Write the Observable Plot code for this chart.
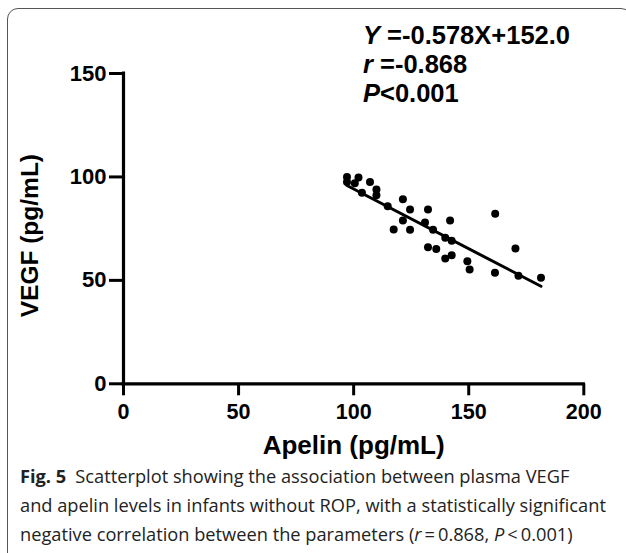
<!DOCTYPE html>
<html>
<head>
<meta charset="utf-8">
<script src="https://cdn.jsdelivr.net/npm/d3@7"></script>
<script src="https://cdn.jsdelivr.net/npm/@observablehq/plot@0.6"></script>
<style>
  body { margin: 0; background: #fff; }
  #wrap { position: relative; width: 626px; height: 553px; overflow: hidden; background: #fff; }
  #frame { position: absolute; left: 7px; top: 8px; width: 625px; height: 560px; border: 1.5px solid #555; border-radius: 11px; box-sizing: border-box; }
  #chart { position: absolute; left: 0; top: 0; }
  #annot { position: absolute; left: 363px; top: 21px; font: bold 25.5px "Liberation Sans", Arial, sans-serif; line-height: 29px; color: #000; white-space: nowrap; }
  #caption { position: absolute; left: 20px; top: 462px; font-family: "Open Sans", "Noto Sans", sans-serif; color: #222; white-space: nowrap; }
  #caption div { line-height: 29px; }
</style>
</head>
<body>
<div id="wrap">
  <div id="frame"></div>
  <div id="chart"></div>
  <div id="annot">
    <div><i>Y</i> =-0.578X+152.0</div>
    <div><i>r</i> =-0.868</div>
    <div><i>P</i>&lt;0.001</div>
  </div>
  <div id="caption">
    <div id="cap1"><b>Fig. 5</b>&ensp;Scatterplot showing the association between plasma VEGF</div>
    <div id="cap2">and apelin levels in infants without ROP, with a statistically significant</div>
    <div id="cap3">negative correlation between the parameters (<i>r</i>&thinsp;=&thinsp;0.868, <i>P</i>&thinsp;&lt;&thinsp;0.001)</div>
  </div>
</div>
<script>
// Data
const apelin = [97.1, 97.1, 102.1, 100.5, 107.1, 109.9, 103.6, 109.9, 114.8, 121.4,
                124.5, 132.3, 121.4, 117.4, 124.5, 131.0, 141.9, 134.5, 139.8, 142.6,
                132.3, 135.9, 142.6, 139.8, 161.5, 149.4, 150.4, 161.4, 170.3, 171.6, 181.4];
const vegf   = [100.0, 97.5, 99.7, 96.9, 97.5, 93.9, 92.4, 91.1, 85.8, 89.2,
                84.3, 84.3, 79.0, 74.6, 74.5, 78.0, 79.0, 74.5, 70.6, 69.2,
                66.0, 65.2, 62.2, 60.6, 82.2, 59.2, 55.2, 53.7, 65.4, 52.2, 51.3];
const xTicks = [0, 50, 100, 150, 200];
const yTicks = [0, 50, 100, 150];
const fit = { slope: -0.578, intercept: 152.0 };
const xTitle = "Apelin (pg/mL)";
const yTitle = "VEGF (pg/mL)";

const points = apelin.map((a, i) => ({ apelin: a, vegf: vegf[i] }));
const [xmin, xmax] = d3.extent(apelin);
const fitLine = [xmin, xmax].map(x => ({ apelin: x, vegf: fit.intercept + fit.slope * x }));

const W = 626, H = 462;
const chart = Plot.plot({
  width: W,
  height: H,
  marginLeft: 123,
  marginRight: 42.7,
  marginTop: 73,
  marginBottom: H - 383.3,
  style: { fontFamily: "Liberation Sans, Arial, sans-serif", background: "transparent", overflow: "visible" },
  x: { domain: [0, 200] },
  y: { domain: [0, 150] },
  marks: [
    Plot.ruleY([0], { x1: 0, x2: 200, stroke: "#000", strokeWidth: 3.2, strokeLinecap: "square" }),
    Plot.ruleX([0], { y1: 0, y2: 150, stroke: "#000", strokeWidth: 3.2, strokeLinecap: "square" }),
    Plot.axisX({ ticks: xTicks, tickSize: 12, tickPadding: 8, strokeWidth: 3, fontSize: 21.5, fontWeight: "bold", fill: "#000", label: null }),
    Plot.axisY({ ticks: yTicks, tickSize: 14, tickPadding: 3, strokeWidth: 3, fontSize: 22, fontWeight: "bold", fill: "#000", label: null }),
    Plot.line(fitLine, { x: "apelin", y: "vegf", stroke: "#000", strokeWidth: 3 }),
    Plot.dot(points, { x: "apelin", y: "vegf", r: 4, fill: "#000", stroke: "none" }),
    Plot.text([xTitle], { frameAnchor: "bottom", dy: 62, fontSize: 26, fontWeight: "bold", fill: "#000", textAnchor: "middle", lineAnchor: "middle" }),
    Plot.text([yTitle], { frameAnchor: "left", dx: -93, dy: 7, rotate: -90, fontSize: 24.5, fontWeight: "bold", fill: "#000", textAnchor: "middle", lineAnchor: "middle" })
  ]
});
// thicken the axis tick strokes to match the reference
chart.querySelectorAll('g[aria-label$="tick"]').forEach(g => {
  g.setAttribute("stroke-width", "3");
  g.querySelectorAll("path").forEach(p => p.setAttribute("stroke-width", "3"));
});
document.getElementById("chart").appendChild(chart);

// Fit the caption font size so the second line spans the measured width
const cap = document.getElementById("caption");
cap.style.fontSize = "20px";
const w2 = document.getElementById("cap2").getBoundingClientRect().width;
const fs = 20 * 586 / w2;
cap.style.fontSize = fs.toFixed(2) + "px";
</script>
</body>
</html>
